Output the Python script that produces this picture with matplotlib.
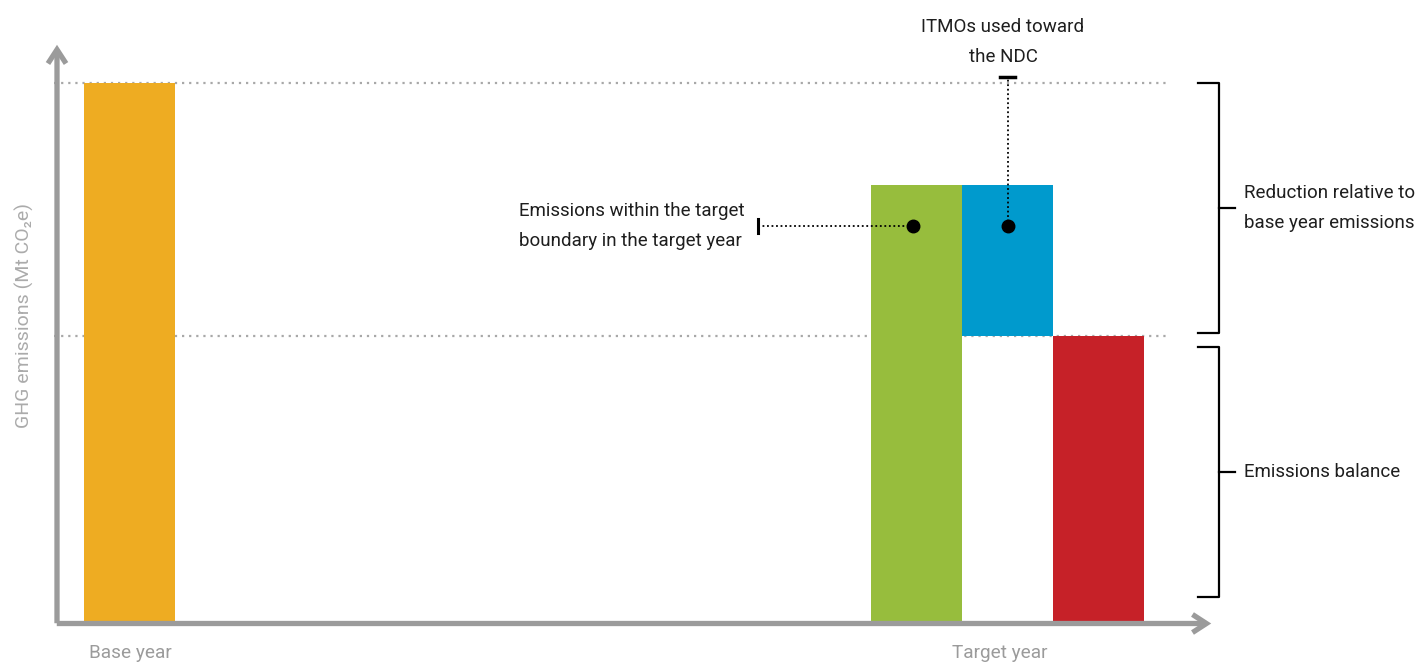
import matplotlib.pyplot as plt
import matplotlib.transforms as mtransforms
from matplotlib.patches import FancyArrowPatch
from matplotlib.lines import Line2D

plt.rcParams['font.family'] = ['Roboto', 'DejaVu Sans']

# emissions (index, base year = 100)
categories = ['Base year', 'Target year']
base_year = 100
target_emissions = 81
itmos_used = 28
balance = target_emissions - itmos_used

x_base = 0.0
x_green, x_blue, x_red = 8.65, 9.65, 10.65

ORANGE = '#EEAC22'
GREEN = '#97BD3D'
BLUE = '#009ACD'
RED = '#C62128'
AXIS_GREY = '#9b9b9b'
TEXT = '#1e1e1e'

W, H = 1418, 665
fig = plt.figure(figsize=(W / 100, H / 100), dpi=100)
ax = fig.add_axes([0, 0, 1, 1])
ax.set_xlim(-1.423, 14.159)
ax.set_ylim(-8.18, 115.43)
ax.axis('off')

# pixel-style coordinates for the furniture (origin top-left)
pix = mtransforms.Affine2D().scale(1 / W, -1 / H).translate(0, 1) + fig.transFigure

# bars
ax.bar(x_base, base_year, width=1.0, color=ORANGE, zorder=2)
ax.bar(x_green, target_emissions, width=1.0, color=GREEN, zorder=2)
ax.bar(x_blue, itmos_used, bottom=balance, width=1.0, color=BLUE, zorder=2)
ax.bar(x_red, balance, width=1.0, color=RED, zorder=2)

# dotted guide lines
for yv in (base_year, balance):
    ax.plot([-0.83, 11.43], [yv, yv], color='#a8a8a8', lw=1.6,
            linestyle=(0, (1, 2.2)), zorder=1)

# axes with arrow heads
for (p0, p1) in [((57, 626), (57, 42)), ((54, 623.5), (1214, 623.5))]:
    arr = FancyArrowPatch(p0, p1, transform=pix,
                          arrowstyle='->,head_length=10,head_width=6.5',
                          mutation_scale=1, lw=3.8, color=AXIS_GREY,
                          capstyle='butt', joinstyle='miter', zorder=3)
    fig.add_artist(arr)

fig.text(130, 653, categories[0], transform=pix, ha='center', va='center',
         fontsize=13.7, color=AXIS_GREY)
fig.text(1000, 653, categories[1], transform=pix, ha='center', va='center',
         fontsize=13.7, color=AXIS_GREY)
fig.text(24, 315, 'GHG emissions (Mt CO\u2082e)', transform=pix, rotation=90,
         ha='center', va='center', fontsize=14, color='#ababab')

# callout dots and leaders
dot_y = 73.4
ax.plot([x_green - 0.04, x_blue], [dot_y, dot_y], 'o', color='black', ms=9, zorder=5)
ax.plot([(758 - 129.5) / 91, x_green - 0.04], [dot_y, dot_y], color='black', lw=1.3,
        linestyle=(0, (1, 1.5)), zorder=4)
ax.plot([x_blue, x_blue], [dot_y, 101.1], color='black', lw=1.3,
        linestyle=(0, (1, 1.5)), zorder=4)
fig.add_artist(Line2D([758, 758], [219, 233], transform=pix, color='black', lw=2.2))
fig.add_artist(Line2D([1000, 1015], [77, 77], transform=pix, color='black', lw=2.5))

fig.text(745, 226, 'Emissions within the target\nboundary in the target year',
         transform=pix, ha='right', va='center', multialignment='left',
         fontsize=13.5, color=TEXT, linespacing=1.85)
fig.text(1003, 42, 'ITMOs used toward\nthe NDC', transform=pix, ha='center',
         va='center', multialignment='center', fontsize=13.5, color=TEXT,
         linespacing=1.85)

# brackets on the right
for top, bot in [(83, 333), (347, 597)]:
    mid = (top + bot) / 2
    fig.add_artist(Line2D([1198, 1219, 1219, 1198], [top, top, bot, bot],
                          transform=pix, color='black', lw=1.6))
    fig.add_artist(Line2D([1219, 1235], [mid, mid], transform=pix,
                          color='black', lw=1.6))

fig.text(1244, 208, 'Reduction relative to\nbase year emissions', transform=pix,
         ha='left', va='center', fontsize=13.5, color=TEXT, linespacing=1.85)
fig.text(1244, 472, 'Emissions balance', transform=pix, ha='left', va='center',
         fontsize=13.5, color=TEXT)

fig.savefig('out.png', dpi=100)
